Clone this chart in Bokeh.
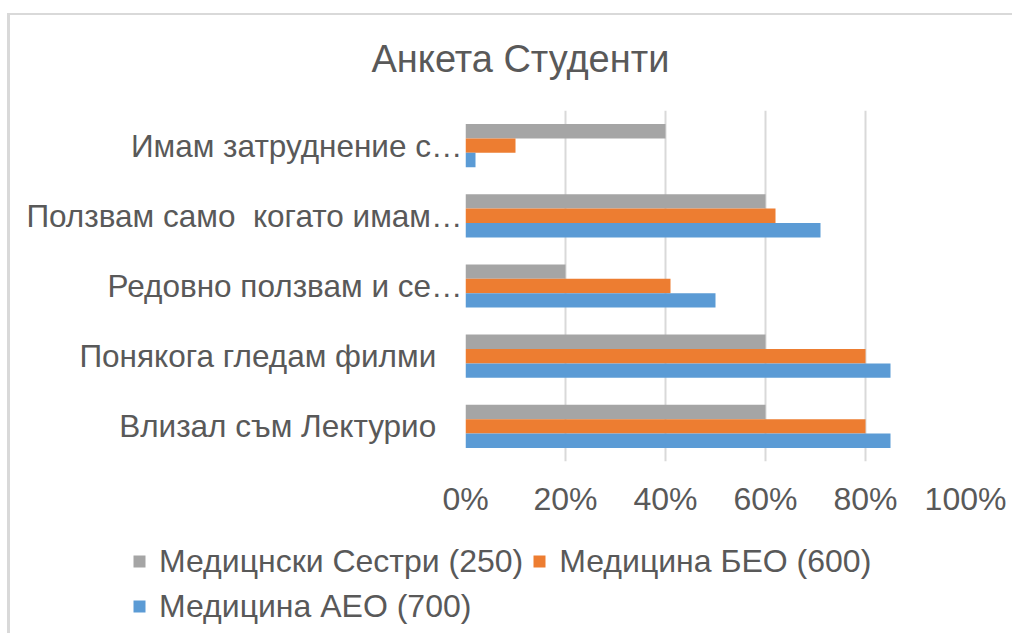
from bokeh.plotting import figure
from bokeh.models import (FactorRange, Range1d, FixedTicker, Legend, LegendItem,
                          CustomJSTickFormatter, ColumnDataSource)
from bokeh.transform import dodge
from bokeh.embed import file_html
from bokeh.resources import INLINE

NB = "\u00a0"
categories = [
    "Влизал съм Лектурио" + NB * 3,
    "Понякога гледам филми" + NB * 3,
    "Редовно ползвам и се…",
    "Ползвам само " + NB + "когато имам…",
    "Имам затруднение с…",
]
series_names = ["Медицнски Сестри (250)", "Медицина БЕО (600)", "Медицина АЕО (700)"]
nurses = [60, 60, 20, 60, 40]
beo = [80, 80, 41, 62, 10]
aeo = [85, 85, 50, 71, 2]
x_ticks = [0, 20, 40, 60, 80, 100]

colors = ["#a5a5a5", "#ed7d31", "#5b9bd5"]
TEXT = "#595959"
FONT = "Liberation Sans"
LINE = "#d9d9d9"

src = ColumnDataSource(dict(cat=categories, nurses=nurses, beo=beo, aeo=aeo))

W = 1005
TOP = 4          # canvas top on the page
H1 = 538
H2 = 92
FRAME_TOP = 111 - TOP
FRAME_BOTTOM = 462 - TOP

p = figure(width=W, height=H1, output_backend="svg", toolbar_location=None,
           y_range=FactorRange(*categories, range_padding=0),
           x_range=Range1d(0, 100),
           min_border_left=458, min_border_right=W - 458 - 500,
           min_border_top=FRAME_TOP, min_border_bottom=H1 - FRAME_BOTTOM)
p.styles = {
    "margin-top": "3px", "margin-left": "7px",
    "background": (f"linear-gradient({LINE},{LINE}) 0px 10px / 3px 100% no-repeat, "
                   f"linear-gradient({LINE},{LINE}) 0px 10px / 100% 2px no-repeat, #ffffff"),
}
p.border_fill_alpha = 0
p.background_fill_color = "white"
p.outline_line_color = None

h = 0.205
offsets = [h, 0, -h]
fields = ["nurses", "beo", "aeo"]
for f, c, o in zip(fields, colors, offsets):
    p.hbar(y=dodge("cat", o, range=p.y_range), right=f, height=h, left=0,
           source=src, fill_color=c, line_color=None)

p.title.text = "Анкета Студенти"
p.title.text_font = FONT
p.title.text_font_size = "38px"
p.title.text_font_style = "normal"
p.title.text_color = TEXT
p.title.align = "left"
p.title.offset = -94
p.title.standoff = 62

p.xaxis.ticker = FixedTicker(ticks=x_ticks)
p.xaxis.formatter = CustomJSTickFormatter(code="return tick + '%';")
p.xaxis.axis_line_color = None
p.xaxis.major_tick_line_color = None
p.xaxis.minor_tick_line_color = None
p.xaxis.major_label_text_font = FONT
p.xaxis.major_label_text_font_size = "32px"
p.xaxis.major_label_text_color = TEXT
p.xaxis.major_label_standoff = 13

p.yaxis.axis_line_color = None
p.yaxis.major_tick_line_color = None
p.yaxis.minor_tick_line_color = None
p.yaxis.major_label_text_font = FONT
p.yaxis.major_label_text_font_size = "31.5px"
p.yaxis.major_label_text_color = TEXT
p.yaxis.major_label_standoff = -3

p.xgrid.grid_line_color = LINE
p.xgrid.grid_line_width = 2
p.ygrid.grid_line_color = None

# legend strip (separate root so it is not frame-aligned with the chart)
p2 = figure(width=W, height=H2, output_backend="svg", toolbar_location=None,
            x_axis_location=None, y_axis_location=None,
            min_border_left=0, min_border_right=0, min_border_top=0, min_border_bottom=0,
            x_range=Range1d(0, 100), y_range=FactorRange(*categories))
p2.styles = {"margin-left": "7px",
             "background": f"linear-gradient({LINE},{LINE}) 0px 0px / 3px 100% no-repeat, #ffffff"}
p2.border_fill_alpha = 0
p2.background_fill_alpha = 0
p2.outline_line_color = None
p2.grid.visible = False
lr = []
for f, c in zip(fields, colors):
    r = p2.scatter(x=f, y="cat", source=src, marker="square", size=12,
                   fill_color=c, line_color=None, visible=False)
    lr.append(r)

leg1 = Legend(items=[LegendItem(label=series_names[0], renderers=[lr[0]]),
                     LegendItem(label=series_names[1], renderers=[lr[1]])],
              orientation="horizontal", location=(117, 52))
leg2 = Legend(items=[LegendItem(label=series_names[2], renderers=[lr[2]])],
              orientation="horizontal", location=(117, 7))
for lg in (leg1, leg2):
    lg.label_text_font = FONT
    lg.label_text_font_size = "32px"
    lg.label_text_color = TEXT
    lg.glyph_width = 30
    lg.glyph_height = 40
    lg.label_standoff = 5
    lg.label_height = 35
    lg.spacing = 1
    lg.padding = 0
    lg.margin = 0
    lg.border_line_color = None
    lg.background_fill_alpha = 0
    lg.inactive_fill_alpha = 0
    p2.add_layout(lg, "center")

open("out.html", "w").write(file_html([p, p2], INLINE))
